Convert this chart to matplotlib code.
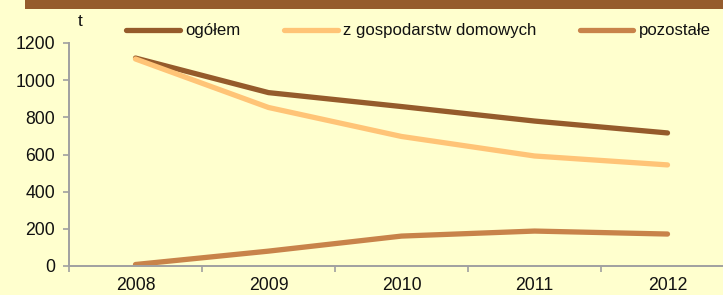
import matplotlib
matplotlib.use("Agg")
import matplotlib.pyplot as plt
from matplotlib.patches import Rectangle

years = ["2008", "2009", "2010", "2011", "2012"]
ogolem = [1119, 933, 858, 780, 716]
gosp = [1114, 853, 697, 592, 544]
pozostale = [8, 80, 161, 188, 172]

series_names = ["ogółem", "z gospodarstw domowych", "pozostałe"]
colors = ["#955B2B", "#FFC477", "#C8834A"]

W, H = 723, 295
fig = plt.figure(figsize=(W / 100, H / 100), dpi=100)
bg = "#FFFFCE"
fig.patch.set_facecolor(bg)

fig.patches.append(Rectangle((25 / W, 1 - 9 / H), 1 - 25 / W, 9 / H,
                             transform=fig.transFigure, facecolor="#955C2C",
                             edgecolor="none", zorder=0))

left, right = 69, 734
top, bottom = 43, 266
ax = fig.add_axes([left / W, 1 - bottom / H, (right - left) / W, (bottom - top) / H])
ax.set_facecolor(bg)

x = list(range(len(years)))
for vals, name, c in zip([ogolem, gosp, pozostale], series_names, colors):
    ax.plot(x, vals, color=c, lw=3.8, solid_capstyle="round", solid_joinstyle="round",
            label=name)

ax.set_xlim(-0.5, len(years) - 0.5)
ax.set_ylim(0, 1200)
ax.set_yticks(range(0, 1201, 200))
ax.set_xticks(x)
ax.set_xticklabels(years)
ax.set_xticks([i - 0.5 for i in range(len(years) + 1)], minor=True)
ax.tick_params(axis="x", which="major", length=0, pad=8, labelsize=12.7,
               labelfontfamily="Liberation Sans", labelcolor="#111111")
ax.tick_params(axis="x", which="minor", length=4, width=1.2, color="#A0A0A0", direction="out")
ax.tick_params(axis="y", length=4, width=1.2, color="#A0A0A0", direction="out", pad=6,
               labelsize=12.7, labelfontfamily="Liberation Sans", labelcolor="#111111")
for s in ["top", "right"]:
    ax.spines[s].set_visible(False)
for s in ["left", "bottom"]:
    ax.spines[s].set_color("#A0A0A0")
    ax.spines[s].set_linewidth(1.4)

fig.text(80 / W, 1 - 22 / H, "t", ha="center", va="center", fontsize=12.5,
         family="Liberation Sans", color="#111111")

leg = fig.legend(loc="center left", bbox_to_anchor=(126 / W, 1 - 31 / H), ncol=3,
                 frameon=False, prop={"family": "Liberation Sans", "size": 12.1},
                 handlelength=3.2, handletextpad=0.3, columnspacing=2.6,
                 borderaxespad=0, borderpad=0)
for t in leg.get_texts():
    t.set_color("#111111")

fig.savefig("out.png", dpi=100, facecolor=bg)
